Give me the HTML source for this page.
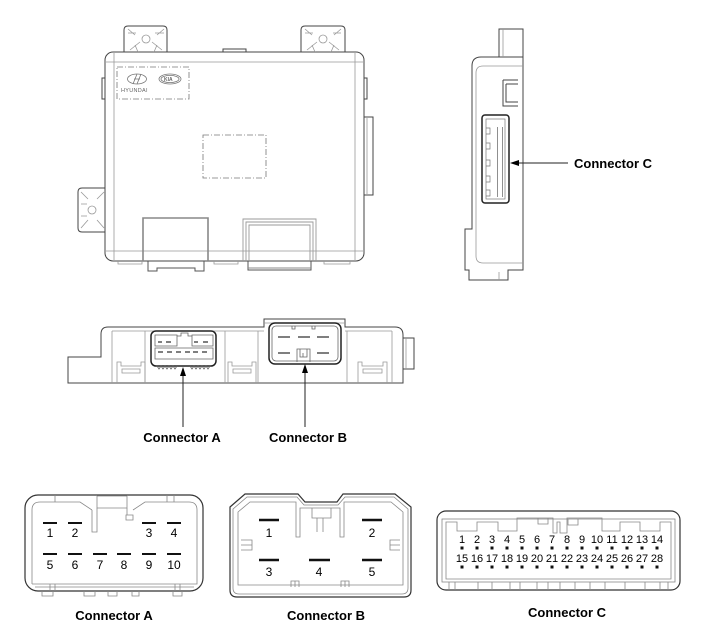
<!DOCTYPE html>
<html><head><meta charset="utf-8"><style>
html,body{margin:0;padding:0;background:#fff;}
svg{display:block;}
text{font-family:"Liberation Sans",Arial,sans-serif;fill:#000;}
.lb{font-weight:bold;font-size:13px;}
.n12{font-size:12px;}
.n11{font-size:11px;}
</style></head><body>
<svg width="701" height="644" viewBox="0 0 701 644" xmlns="http://www.w3.org/2000/svg">
<!-- ============ TOP MODULE ============ -->
<g fill="none" stroke="#444" stroke-width="1">
  <path d="M124,52 V30 Q124,26 128,26 H163 Q167,26 167,30 V52"/>
  <path d="M301,52 V30 Q301,26 305,26 H341 Q345,26 345,30 V52"/>
  <path d="M105,188 H82 Q78,188 78,192 V228 Q78,232 82,232 H105"/>
  <path d="M223,52 V49 H246 V52"/>
  <rect x="105" y="52" width="259" height="209" rx="8"/>
  <path d="M105,78 H102 V99 H105"/>
  <path d="M364,78 H367 V99 H364"/>
  <path d="M364,117 H373 V195 H364"/>
</g>
<g fill="none" stroke="#999" stroke-width="0.8">
  <line x1="114" y1="53" x2="114" y2="260"/>
  <line x1="355" y1="53" x2="355" y2="260"/>
  <line x1="106" y1="62" x2="363" y2="62"/>
  <line x1="106" y1="251" x2="363" y2="251"/>
  <line x1="367" y1="118" x2="367" y2="194"/>
  <circle cx="146" cy="39" r="4"/>
  <circle cx="323" cy="39" r="4"/>
  <circle cx="92" cy="210" r="4"/>
  <path d="M128,29 L135,35 M164,29 L157,35 M130,50 L140,42 M162,50 L152,42 M128,33 H136 M155,33 H164 M135,45 L138,52 M157,45 L154,52"/>
  <path d="M305,29 L312,35 M341,29 L334,35 M307,50 L317,42 M339,50 L329,42 M305,33 H313 M333,33 H341 M312,45 L315,52 M334,45 L331,52"/>
  <path d="M81,192 L88,199 M104,192 L97,199 M81,228 L88,220 M104,228 L97,220 M81,204 H87 M81,216 H87"/>
  <path d="M118,261 V264 H142 V261 M214,261 V264 H238 V261 M324,261 V264 H350 V261"/>
</g>
<g fill="none" stroke="#777" stroke-width="0.8">
  <rect x="117" y="67" width="72" height="32" stroke-dasharray="6,2,1,2"/>
  <rect x="203" y="135" width="63" height="43" stroke-dasharray="6,2,1,2"/>
  <ellipse cx="137" cy="79" rx="9.5" ry="5"/>
  <path d="M133,84 L137,74 M137,84 L141,74 M134,79 H140"/>
  <ellipse cx="170" cy="79" rx="11" ry="5"/>
  <ellipse cx="170" cy="79" rx="9" ry="3.6"/>
</g>
<text x="164" y="81" style="font-size:5px;fill:#666;font-weight:bold">KIA</text>
<text x="121" y="92" style="font-size:5.5px;fill:#666;letter-spacing:0.3px">HYUNDAI</text>
<g fill="none" stroke="#888" stroke-width="1.6">
  <path d="M143,261 V218 H208 V261"/>
</g>
<g fill="none" stroke="#555" stroke-width="1">
  <path d="M148,261 V271 H157 V268 H195 V271 H204 V261"/>
  <path d="M248,261 V270 H311 V261"/>
  <line x1="248" y1="268" x2="311" y2="268" stroke="#888"/>
</g>
<g fill="none" stroke="#999" stroke-width="0.9">
  <path d="M243,261 V219 H316 V261"/>
  <path d="M246,261 V222 H313 V261"/>
  <path d="M249,261 V225 H310 V261"/>
</g>

<!-- ============ SIDE VIEW ============ -->
<g fill="none" stroke="#444" stroke-width="1">
  <path d="M499,57 V29 H523 V270 H508 V280 H469 V270 H465 V229 H472 V66 Q472,57 481,57 H523"/>
  <path d="M503,80 H518 M503,80 V106 H518 M506,84 H518 M506,84 V102 H518"/>
</g>
<g fill="none" stroke="#999" stroke-width="0.8">
  <path d="M523,66 H483 Q476,66 476,73 V256 Q476,263 483,263 H523"/>
  <line x1="503" y1="29" x2="503" y2="57"/>
  <line x1="499" y1="272" x2="499" y2="280"/>
</g>
<rect x="482" y="115" width="27" height="88" rx="3" fill="none" stroke="#222" stroke-width="1.5"/>
<g fill="none" stroke="#777" stroke-width="0.7">
  <rect x="486" y="119" width="19" height="80"/>
  <path d="M486,128 H490 V134 H486 M486,143 H490 V149 H486 M486,160 H490 V166 H486 M486,176 H490 V182 H486 M486,190 H490 V196 H486"/>
</g>
<g fill="#444">
  <rect x="497" y="127" width="1" height="70" opacity="0.6"/>
  <rect x="502" y="127" width="1" height="70" opacity="0.6"/>
</g>
<line x1="516" y1="163" x2="568" y2="163" stroke="#222" stroke-width="1"/>
<polygon points="510,163 519,160 519,166" fill="#000"/>
<text class="lb" x="574" y="168">Connector C</text>

<!-- ============ MIDDLE VIEW ============ -->
<g fill="none" stroke="#444" stroke-width="1">
  <path d="M68,383 V357 H101 V334 Q101,327 108,327 H264 V319 H345 V327 H395 Q403,327 403,335 V383 Z"/>
  <path d="M403,338 H414 V369 H403"/>
</g>
<g fill="none" stroke="#999" stroke-width="0.8">
  <line x1="112" y1="331" x2="112" y2="383"/>
  <line x1="112" y1="331" x2="264" y2="331"/>
  <line x1="345" y1="331" x2="392" y2="331"/>
  <line x1="392" y1="331" x2="392" y2="383"/>
  <line x1="225" y1="331" x2="225" y2="383"/>
  <line x1="258" y1="331" x2="258" y2="383"/>
  <line x1="347" y1="331" x2="347" y2="383"/>
  <line x1="145" y1="331" x2="145" y2="383"/>
  <line x1="406" y1="338" x2="406" y2="369"/>
  <line x1="264" y1="323" x2="345" y2="323"/>
  <path d="M117,383 V362 H121 V366 H141 V362 H145 V383"/>
  <path d="M122,369 H140 V373 H122 Z"/>
  <path d="M228,383 V362 H232 V366 H252 V362 H256 V383"/>
  <path d="M233,369 H251 V373 H233 Z"/>
  <path d="M358,383 V362 H362 V366 H383 V362 H387 V383"/>
  <path d="M363,369 H382 V373 H363 Z"/>
</g>
<rect x="151" y="331" width="65" height="35" rx="5" fill="none" stroke="#222" stroke-width="1.5"/>
<g fill="none" stroke="#666" stroke-width="0.8">
  <path d="M155,346 V335 H177 V346 Z"/>
  <path d="M192,346 V335 H213 V346 Z"/>
  <path d="M177,336 H181 V333 H188 V336 H192"/>
  <path d="M155,348 H213 V359 H155 Z"/>
  <path d="M157,366 L159,369 L161,366 L163,369 L165,366 L167,369 L169,366 L171,369 L173,366 L175,369 L177,366 M190,366 L192,369 L194,366 L196,369 L198,366 L200,369 L202,366 L204,369 L206,366 L208,369 L210,366"/>
</g>
<g stroke="#333" stroke-width="1.2">
  <path d="M158,342 H162 M166,342 H171 M194,342 H198 M203,342 H208"/>
  <path d="M158,352 H163 M167,352 H172 M176,352 H181 M185,352 H190 M193,352 H198 M202,352 H207"/>
</g>
<rect x="269" y="323" width="72" height="41" rx="6" fill="none" stroke="#222" stroke-width="1.5"/>
<g fill="none" stroke="#666" stroke-width="0.8">
  <rect x="272" y="326" width="66" height="35" rx="4"/>
  <path d="M297,362 V349 H310 V362"/>
  <path d="M300,349 V357 H307 V349 M303,353 V357"/>
  <path d="M292,326 V329 H295 V326 M312,326 V329 H315 V326"/>
</g>
<g stroke="#333" stroke-width="1.3">
  <path d="M278,337 H290 M298,337 H310 M317,337 H329"/>
  <path d="M278,353 H290 M317,353 H329"/>
</g>
<line x1="183" y1="374" x2="183" y2="427" stroke="#222" stroke-width="1"/>
<polygon points="183,367 180,376 186,376" fill="#000"/>
<line x1="305" y1="371" x2="305" y2="427" stroke="#222" stroke-width="1"/>
<polygon points="305,364 302,373 308,373" fill="#000"/>
<text class="lb" x="182" y="442" text-anchor="middle">Connector A</text>
<text class="lb" x="308" y="442" text-anchor="middle">Connector B</text>

<!-- ============ BOTTOM CONNECTOR A ============ -->
<rect x="25" y="495" width="178" height="96" rx="13" fill="none" stroke="#333" stroke-width="1.2"/>
<g fill="none" stroke="#888" stroke-width="0.8">
  <path d="M32,584 V510 Q32,502 40,502 H80 L92,510 M133,510 L145,502 H189 Q197,502 197,510 V584 H32"/>
  <path d="M55,495 V502 M167,495 V502 M174,495 V502"/>
  <path d="M97,496 V508 H127 V496 M97,496 H127"/>
  <path d="M92,510 V532 H97 V508"/>
  <path d="M126,515 H133 V520 H126 Z M127,508 V515"/>
  <path d="M35,587 H194"/>
  <path d="M50,584 V591 M55,584 V591 M175,584 V591 M180,584 V591"/>
  <path d="M42,591 V596 H53 V591 M84,591 V596 H95 V591 M108,591 V596 H117 V591 M132,591 V596 H139 V591 M173,591 V596 H182 V591"/>
</g>
<g stroke="#111" stroke-width="2">
  <path d="M43,523 H57 M68,523 H82 M142,523 H156 M167,523 H181"/>
  <path d="M43,554 H57 M68,554 H82 M93,554 H107 M117,554 H131 M142,554 H156 M167,554 H181"/>
</g>
<g text-anchor="middle">
  <text class="n12" x="50" y="537">1</text>
  <text class="n12" x="75" y="537">2</text>
  <text class="n12" x="149" y="537">3</text>
  <text class="n12" x="174" y="537">4</text>
  <text class="n12" x="50" y="569">5</text>
  <text class="n12" x="75" y="569">6</text>
  <text class="n12" x="100" y="569">7</text>
  <text class="n12" x="124" y="569">8</text>
  <text class="n12" x="149" y="569">9</text>
  <text class="n12" x="174" y="569">10</text>
</g>
<text class="lb" x="114" y="620" text-anchor="middle">Connector A</text>

<!-- ============ BOTTOM CONNECTOR B ============ -->
<path d="M230,507 L245,494 H298 L305,502 H337 L343,494 H395 L411,507 V590 Q411,597 404,597 H237 Q230,597 230,590 Z" fill="none" stroke="#333" stroke-width="1.2"/>
<g fill="none" stroke="#888" stroke-width="0.8">
  <path d="M233,509 L247,497 H297 L304,505 H338 L345,497 H394 L408,509 V588 Q408,594 402,594 H239 Q233,594 233,588 Z"/>
  <path d="M238,512 L250,502 H296 V537 H300 V508 H340 V537 H344 V502 H391 L403,512 V585 H238 Z"/>
  <path d="M312,508 V518 H331 V508 M317,518 V532 M323,518 V532 M312,518 H331"/>
  <path d="M241,540 H252 V550 H241 M241,545 H252"/>
  <path d="M400,540 H390 V550 H400 M390,545 H400"/>
  <path d="M291,587 V581 H299 V587 M295,581 V587"/>
  <path d="M341,587 V581 H349 V587 M345,581 V587"/>
</g>
<g stroke="#111" stroke-width="2.6">
  <path d="M259,520 H279 M362,520 H382"/>
  <path d="M259,560 H279 M309,560 H330 M362,560 H382"/>
</g>
<text class="n12" x="269" y="537" text-anchor="middle">1</text>
<text class="n12" x="372" y="537" text-anchor="middle">2</text>
<text class="n12" x="269" y="576" text-anchor="middle">3</text>
<text class="n12" x="319" y="576" text-anchor="middle">4</text>
<text class="n12" x="372" y="576" text-anchor="middle">5</text>
<text class="lb" x="326" y="620" text-anchor="middle">Connector B</text>

<!-- ============ BOTTOM CONNECTOR C ============ -->
<rect x="437" y="511" width="243" height="79" rx="9" fill="none" stroke="#333" stroke-width="1.2"/>
<g fill="none" stroke="#888" stroke-width="0.8">
  <rect x="442" y="519" width="233" height="63"/>
  <path d="M446,579 V522 H457 V531 H477 V522 H498 V531 H517 V518 H553 V533 H557 V522 H560 V533 H567 V518 H602 V531 H620 V522 H640 V531 H660 V522 H671 V579 Z"/>
  <path d="M538,518 V524 H548 V518 M568,519 V525 H578 V519"/>
  <path d="M449,582 V590 M455,582 V590 M478,582 V590 M492,582 V590 M510,582 V590 M520,582 V590 M537,582 V590 M548,582 V590 M560,582 V590 M575,582 V590 M590,582 V590 M605,582 V590 M625,582 V590 M645,582 V590 M660,582 V590 M668,582 V590"/>
</g>
<g fill="#111">
  <rect x="460.5" y="546.5" width="3" height="3"/><rect x="475.5" y="546.5" width="3" height="3"/>
  <rect x="490.5" y="546.5" width="3" height="3"/><rect x="505.5" y="546.5" width="3" height="3"/>
  <rect x="520.5" y="546.5" width="3" height="3"/><rect x="535.5" y="546.5" width="3" height="3"/>
  <rect x="550.5" y="546.5" width="3" height="3"/><rect x="565.5" y="546.5" width="3" height="3"/>
  <rect x="580.5" y="546.5" width="3" height="3"/><rect x="595.5" y="546.5" width="3" height="3"/>
  <rect x="610.5" y="546.5" width="3" height="3"/><rect x="625.5" y="546.5" width="3" height="3"/>
  <rect x="640.5" y="546.5" width="3" height="3"/><rect x="655.5" y="546.5" width="3" height="3"/>
  <rect x="460.5" y="565.5" width="3" height="3"/><rect x="475.5" y="565.5" width="3" height="3"/>
  <rect x="490.5" y="565.5" width="3" height="3"/><rect x="505.5" y="565.5" width="3" height="3"/>
  <rect x="520.5" y="565.5" width="3" height="3"/><rect x="535.5" y="565.5" width="3" height="3"/>
  <rect x="550.5" y="565.5" width="3" height="3"/><rect x="565.5" y="565.5" width="3" height="3"/>
  <rect x="580.5" y="565.5" width="3" height="3"/><rect x="595.5" y="565.5" width="3" height="3"/>
  <rect x="610.5" y="565.5" width="3" height="3"/><rect x="625.5" y="565.5" width="3" height="3"/>
  <rect x="640.5" y="565.5" width="3" height="3"/><rect x="655.5" y="565.5" width="3" height="3"/>
</g>
<g text-anchor="middle">
  <text class="n11" x="462" y="543">1</text><text class="n11" x="477" y="543">2</text>
  <text class="n11" x="492" y="543">3</text><text class="n11" x="507" y="543">4</text>
  <text class="n11" x="522" y="543">5</text><text class="n11" x="537" y="543">6</text>
  <text class="n11" x="552" y="543">7</text><text class="n11" x="567" y="543">8</text>
  <text class="n11" x="582" y="543">9</text><text class="n11" x="597" y="543">10</text>
  <text class="n11" x="612" y="543">11</text><text class="n11" x="627" y="543">12</text>
  <text class="n11" x="642" y="543">13</text><text class="n11" x="657" y="543">14</text>
  <text class="n11" x="462" y="562">15</text><text class="n11" x="477" y="562">16</text>
  <text class="n11" x="492" y="562">17</text><text class="n11" x="507" y="562">18</text>
  <text class="n11" x="522" y="562">19</text><text class="n11" x="537" y="562">20</text>
  <text class="n11" x="552" y="562">21</text><text class="n11" x="567" y="562">22</text>
  <text class="n11" x="582" y="562">23</text><text class="n11" x="597" y="562">24</text>
  <text class="n11" x="612" y="562">25</text><text class="n11" x="627" y="562">26</text>
  <text class="n11" x="642" y="562">27</text><text class="n11" x="657" y="562">28</text>
</g>
<text class="lb" x="567" y="617" text-anchor="middle">Connector C</text>
</svg>
</body></html>
